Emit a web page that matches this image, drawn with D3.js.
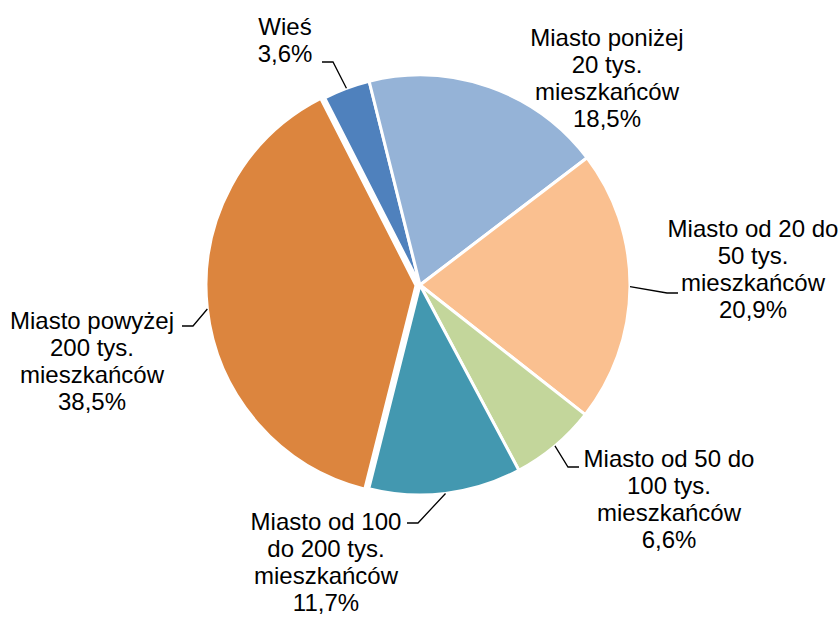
<!DOCTYPE html>
<html>
<head>
<meta charset="utf-8">
<script src="https://cdn.jsdelivr.net/npm/d3@7"></script>
<style>
  body { margin: 0; background: #fff; }
  text { font-family: "Liberation Sans", Arial, sans-serif; font-size: 24px; fill: #000; }
</style>
</head>
<body>
<script>
const categories = ['Wieś', 'Miasto poniżej 20 tys. mieszkańców', 'Miasto od 20 do 50 tys. mieszkańców',
  'Miasto od 50 do 100 tys. mieszkańców', 'Miasto od 100 do 200 tys. mieszkańców', 'Miasto powyżej 200 tys. mieszkańców'];
const values = [3.6, 18.5, 20.9, 6.6, 11.7, 38.5];
const labelLines = [
  ['Wieś'],
  ['Miasto poniżej', '20 tys.', 'mieszkańców'],
  ['Miasto od 20 do', '50 tys.', 'mieszkańców'],
  ['Miasto od 50 do', '100 tys.', 'mieszkańców'],
  ['Miasto od 100', 'do 200 tys.', 'mieszkańców'],
  ['Miasto powyżej', '200 tys.', 'mieszkańców']
];
const colors = ['#4f81bd', '#95b3d7', '#fac090', '#c3d69b', '#4398b0', '#dc853e'];

// label layout: text centre x, first baseline y, leader elbow and end (null = no leader)
const labelPos = [
  {x: 285, y: 35, elbow: [333, 62], end: [322, 62]},
  {x: 607, y: 46, elbow: null, end: null},
  {x: 753, y: 237, elbow: [667, 293], end: [678, 293]},
  {x: 669, y: 467, elbow: [568, 467], end: [579, 467]},
  {x: 326, y: 530, elbow: [418, 523], end: [407, 523]},
  {x: 92, y: 329, elbow: [193, 326], end: [182, 326]}
];

const width = 840, height = 617;
const cx = 420, cy = 285, radius = 210;
const lineH = 27;

const svg = d3.select('body').append('svg')
  .attr('width', width)
  .attr('height', height);

const g = svg.append('g').attr('transform', `translate(${cx},${cy})`);

const startAngle = -27 * Math.PI / 180;
const pie = d3.pie().sort(null).value(d => d)
  .startAngle(startAngle).endAngle(startAngle + 2 * Math.PI);
const arcs = pie(values);

const arc = d3.arc().innerRadius(0).outerRadius(radius);

const explode = [0, 0, 0, 0, 0, 4];

g.selectAll('path')
  .data(arcs)
  .enter()
  .append('path')
  .attr('d', arc)
  .attr('fill', (d, i) => colors[i])
  .attr('stroke', '#fff')
  .attr('stroke-width', 3)
  .attr('stroke-linejoin', 'round')
  .attr('transform', (d, i) => {
    const a = (d.startAngle + d.endAngle) / 2;
    return `translate(${Math.sin(a) * explode[i]},${-Math.cos(a) * explode[i]})`;
  });

// leader lines
arcs.forEach((d, i) => {
  const p = labelPos[i];
  if (!p.elbow) return;
  const a = (d.startAngle + d.endAngle) / 2;
  const sx = cx + Math.sin(a) * (radius + explode[i]);
  const sy = cy - Math.cos(a) * (radius + explode[i]);
  svg.append('path')
    .attr('d', d3.line()([[sx, sy], p.elbow, p.end]))
    .attr('fill', 'none')
    .attr('stroke', '#000')
    .attr('stroke-width', 1.3);
});

// labels
const fmt = v => d3.format('.1f')(v).replace('.', ',') + '%';
labelPos.forEach((p, i) => {
  const t = svg.append('text')
    .attr('text-anchor', 'middle')
    .attr('x', p.x)
    .attr('y', p.y);
  const lines = labelLines[i].concat([fmt(values[i])]);
  lines.forEach((l, j) => {
    t.append('tspan')
      .attr('x', p.x)
      .attr('dy', j === 0 ? 0 : lineH)
      .text(l);
  });
});
</script>
</body>
</html>
